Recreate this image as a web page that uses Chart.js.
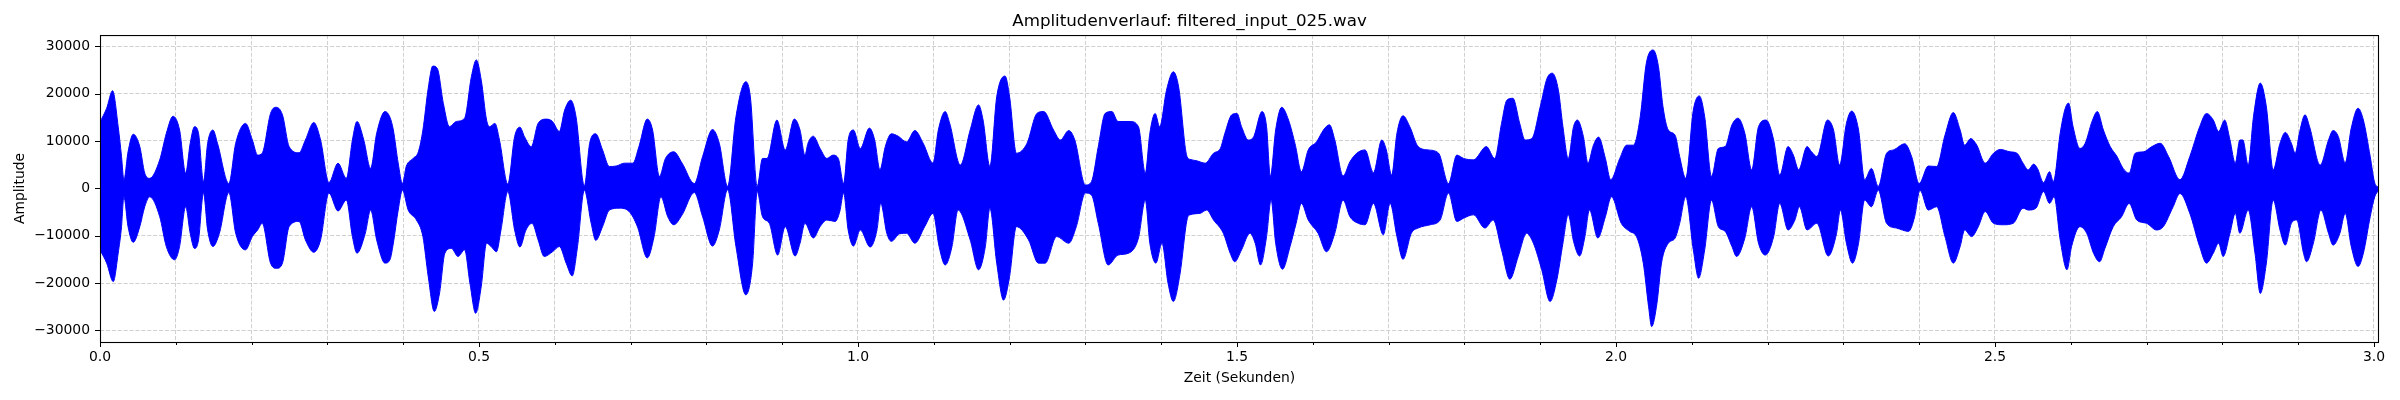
<!DOCTYPE html>
<html>
<head>
<meta charset="utf-8">
<script src="https://cdn.jsdelivr.net/npm/chart.js"></script>
<style>
html,body{margin:0;padding:0;background:#fff;}
#c{display:block;}
</style>
</head>
<body>
<canvas id="c" width="2400" height="400"></canvas>
<script>
// Envelope of the waveform (time in seconds, amplitude)
const upperTime = [0.000,0.0088,0.0166,0.024,0.0284,0.0315,0.037,0.0438,0.0525,0.059,0.0656,0.0788,0.0875,0.0963,0.105,0.113,0.119,0.1247,0.130,0.1365,0.142,0.149,0.155,0.170,0.179,0.192,0.201,0.208,0.214,0.225,0.232,0.2407,0.2495,0.2626,0.271,0.282,0.291,0.302,0.314,0.325,0.333,0.339,0.348,0.357,0.365,0.376,0.3825,0.387,0.3934,0.399,0.404,0.413,0.42,0.426,0.433,0.439,0.445,0.453,0.461,0.470,0.481,0.49,0.4965,0.503,0.51,0.514,0.521,0.527,0.538,0.547,0.554,0.56,0.569,0.578,0.589,0.597,0.606,0.613,0.621,0.628,0.639,0.646,0.654,0.663,0.672,0.681,0.692,0.703,0.711,0.722,0.729,0.738,0.746,0.757,0.768,0.784,0.795,0.808,0.817,0.828,0.839,0.852,0.858,0.867,0.874,0.88,0.893,0.904,0.916,0.9235,0.930,0.934,0.941,0.950,0.959,0.967,0.974,0.981,0.987,0.994,1.003,1.015,1.022,1.029,1.036,1.044,1.053,1.064,1.075,1.086,1.099,1.106,1.115,1.121,1.135,1.148,1.159,1.165,1.174,1.183,1.194,1.20,1.209,1.223,1.236,1.245,1.258,1.267,1.278,1.286,1.30,1.308,1.317,1.326,1.335,1.343,1.359,1.37,1.379,1.385,1.392,1.398,1.407,1.416,1.423,1.434,1.438,1.447,1.458,1.469,1.478,1.484,1.493,1.5,1.506,1.515,1.522,1.533,1.539,1.544,1.551,1.559,1.568,1.577,1.585,1.594,1.605,1.614,1.622,1.629,1.640,1.649,1.658,1.669,1.68,1.691,1.697,1.704,1.711,1.719,1.728,1.739,1.752,1.766,1.779,1.79,1.799,1.812,1.829,1.84,1.849,1.856,1.864,1.873,1.88,1.889,1.9,1.909,1.916,1.924,1.93,1.937,1.944,1.949,1.957,1.963,1.970,1.977,1.986,1.993,2.005,2.014,2.023,2.032,2.04,2.049,2.056,2.062,2.069,2.078,2.084,2.092,2.102,2.11,2.117,2.126,2.135,2.144,2.153,2.161,2.17,2.179,2.188,2.198,2.208,2.216,2.227,2.234,2.241,2.252,2.258,2.265,2.279,2.287,2.295,2.304,2.311,2.32,2.328,2.337,2.346,2.357,2.366,2.381,2.39,2.40,2.412,2.423,2.434,2.445,2.454,2.46,2.468,2.476,2.487,2.498,2.507,2.52,2.529,2.537,2.544,2.551,2.556,2.564,2.572,2.577,2.586,2.592,2.597,2.603,2.612,2.619,2.628,2.635,2.643,2.652,2.661,2.669,2.677,2.685,2.696,2.707,2.718,2.729,2.744,2.757,2.77,2.779,2.788,2.795,2.803,2.81,2.817,2.823,2.827,2.834,2.841,2.85,2.858,2.867,2.876,2.883,2.891,2.896,2.902,2.909,2.915,2.929,2.94,2.946,2.953,2.962,2.97,2.979,2.986,2.995,3.001,3.006];
const upperAmp = [14000,16900,20600,13000,6700,1800,7700,11400,8800,3200,2100,6000,11600,15200,12300,3200,9500,13000,11600,1400,9500,12300,9500,1000,9500,13700,10200,7000,7400,15800,17100,15500,8800,7500,10200,13900,10200,1200,5300,2100,10200,14100,10200,4200,11600,16200,15000,12300,5300,1000,4600,6300,7700,12300,21100,25800,25300,17900,13000,14100,14800,23600,27100,22800,14400,13000,13700,10200,900,10900,12900,10900,8800,13700,14600,14100,12000,16500,18600,15100,500,9500,11500,8100,4600,4700,5300,5300,8800,14600,12300,2500,6300,7700,5300,1000,6700,12400,9500,400,15100,22500,19300,400,6300,6300,14400,8100,14600,12300,7000,9500,11000,8400,6300,7000,6300,1000,10200,12300,8400,12700,10200,3900,8800,11500,11000,9800,12200,9500,5300,12300,16200,13700,4900,12300,17600,14400,4600,19300,23700,19300,7400,9500,15800,16200,12300,10200,12200,10200,700,1400,8800,15800,16200,14100,14100,13000,3200,11600,15800,13000,20700,24600,21400,6700,6100,5800,5300,7400,8400,11600,15500,15800,13000,10200,10900,16200,13000,2500,12300,17100,14400,9100,3500,8100,9800,12300,13400,10200,2600,5600,7400,8100,3300,10200,8100,2800,11600,15300,13000,8800,8100,7400,1000,7000,6300,6000,8800,6300,13700,18600,19000,13700,10200,10500,17200,23200,24300,20700,13000,6300,13000,14400,10900,5300,9000,10800,6300,1800,6300,9100,9100,15100,26400,29200,25700,17200,12300,11200,6700,2100,16500,19500,15100,2500,8400,8800,13400,14800,11600,3900,13000,14400,10200,2800,8800,7000,3900,8800,7700,6700,14400,12300,4900,13700,16300,12300,1800,4200,400,7400,8100,9400,6700,1000,4700,4600,11200,16000,12300,9100,10500,9100,5300,7400,8200,7700,7400,5300,3900,5100,4200,1200,3500,1400,11600,16500,18000,13000,8400,9500,14100,16200,12300,8800,6700,4200,3200,7400,7700,8800,9500,6700,1800,6700,13000,15800,14400,12000,14400,10200,5300,10200,10200,4900,15100,22200,17200,3900,9500,11800,9500,7400,12000,15500,13000,4900,10200,12200,10900,5400,12700,16900,14400,6700,1100,200];
const lowerTime = [0.000,0.0088,0.0175,0.024,0.0284,0.0315,0.037,0.0438,0.0525,0.059,0.0656,0.0788,0.0875,0.0984,0.105,0.113,0.119,0.1247,0.130,0.1365,0.142,0.149,0.1575,0.170,0.179,0.192,0.201,0.208,0.214,0.225,0.233,0.2407,0.2495,0.2626,0.271,0.282,0.291,0.302,0.314,0.325,0.333,0.339,0.350,0.357,0.365,0.376,0.3825,0.387,0.3934,0.399,0.4066,0.4175,0.426,0.433,0.441,0.448,0.455,0.4636,0.4724,0.481,0.488,0.4956,0.503,0.51,0.516,0.523,0.529,0.538,0.547,0.554,0.562,0.570,0.578,0.586,0.597,0.606,0.615,0.623,0.630,0.639,0.648,0.654,0.663,0.672,0.685,0.698,0.709,0.722,0.731,0.740,0.749,0.757,0.768,0.784,0.795,0.808,0.817,0.828,0.839,0.852,0.861,0.867,0.874,0.883,0.894,0.904,0.917,0.9235,0.930,0.941,0.950,0.959,0.970,0.976,0.981,0.987,0.994,1.003,1.016,1.025,1.030,1.038,1.044,1.055,1.064,1.075,1.088,1.099,1.107,1.115,1.124,1.132,1.148,1.159,1.168,1.174,1.183,1.192,1.20,1.209,1.225,1.238,1.247,1.262,1.278,1.288,1.30,1.308,1.317,1.330,1.343,1.357,1.37,1.379,1.385,1.393,1.401,1.409,1.416,1.425,1.434,1.438,1.451,1.460,1.469,1.482,1.491,1.497,1.506,1.517,1.524,1.531,1.539,1.545,1.551,1.560,1.570,1.578,1.585,1.594,1.607,1.618,1.629,1.640,1.649,1.660,1.669,1.68,1.693,1.702,1.711,1.719,1.730,1.739,1.755,1.768,1.779,1.79,1.799,1.812,1.827,1.838,1.849,1.860,1.871,1.882,1.891,1.902,1.913,1.922,1.930,1.937,1.944,1.952,1.959,1.965,1.976,1.986,1.994,2.007,2.018,2.027,2.036,2.043,2.047,2.054,2.060,2.069,2.078,2.084,2.092,2.102,2.109,2.117,2.126,2.135,2.144,2.153,2.159,2.17,2.179,2.188,2.197,2.208,2.216,2.227,2.236,2.242,2.252,2.265,2.280,2.291,2.296,2.304,2.312,2.32,2.328,2.337,2.346,2.357,2.370,2.386,2.394,2.401,2.412,2.423,2.434,2.445,2.454,2.46,2.469,2.478,2.487,2.498,2.511,2.524,2.537,2.544,2.554,2.564,2.572,2.578,2.586,2.595,2.601,2.612,2.621,2.630,2.638,2.645,2.656,2.667,2.677,2.687,2.700,2.713,2.722,2.735,2.744,2.757,2.770,2.779,2.788,2.795,2.801,2.810,2.817,2.823,2.834,2.843,2.850,2.858,2.867,2.876,2.883,2.891,2.898,2.907,2.911,2.920,2.930,2.940,2.946,2.955,2.962,2.970,2.979,2.986,2.995,3.001,3.006];
const lowerAmp = [-13000,-15800,-19700,-13700,-8100,-1800,-8100,-11400,-8100,-3900,-1800,-6000,-12300,-15100,-12300,-3900,-9500,-12700,-10900,-1000,-8800,-12300,-9500,-900,-9500,-13000,-10200,-8800,-7400,-15800,-16900,-15800,-8100,-7000,-10900,-13500,-10900,-1000,-4800,-2500,-10200,-13700,-9500,-4600,-10900,-15800,-15100,-11600,-4600,-400,-4600,-6700,-10200,-18600,-26000,-22100,-13700,-12700,-14400,-13000,-20000,-26400,-20700,-11600,-12300,-13400,-8800,-700,-8800,-12400,-8800,-7400,-10900,-14400,-13400,-12300,-15800,-18500,-12300,-400,-7400,-11000,-8100,-4600,-4200,-4900,-8100,-14700,-10200,-1800,-6000,-7700,-5600,-900,-6000,-12200,-8800,-300,-12300,-22500,-15800,-700,-6000,-7400,-14100,-8100,-14300,-11600,-7400,-10500,-8100,-6700,-7000,-4900,-1000,-8800,-12200,-8800,-12400,-8800,-3200,-9500,-11200,-9600,-9500,-11600,-8100,-5300,-12300,-16200,-12300,-4600,-10900,-17200,-12300,-4200,-15800,-23600,-18600,-8100,-10900,-15800,-15800,-10200,-11600,-8100,-1000,-1400,-7400,-16200,-14100,-13700,-10500,-2500,-11600,-15800,-11600,-20000,-23900,-17900,-6700,-5600,-5300,-4600,-6700,-9500,-13700,-15500,-13000,-9500,-11600,-16200,-10200,-2500,-11600,-17100,-12300,-7400,-3200,-6700,-9500,-13400,-9500,-2500,-6000,-7400,-7700,-3200,-9800,-3200,-10200,-15000,-9500,-8400,-7700,-6700,-1000,-7000,-6300,-5600,-8400,-6700,-13000,-19200,-14400,-9500,-11600,-17200,-23900,-19300,-11600,-5600,-11200,-14300,-10200,-4600,-10500,-6000,-1800,-7400,-9100,-10200,-15800,-25000,-29200,-24300,-15800,-11600,-10500,-7400,-1800,-13000,-19000,-13000,-2500,-8100,-9100,-12300,-14400,-10500,-3900,-11600,-14100,-10200,-3200,-8800,-6700,-3900,-8800,-7400,-14300,-9500,-4600,-11600,-15800,-11600,-2500,-3900,-400,-7400,-8400,-9100,-6000,-400,-4600,-3900,-10200,-15800,-12300,-8800,-10200,-8100,-4900,-7400,-7700,-7400,-4200,-4600,-4200,-700,-3200,-1800,-10900,-17200,-12300,-8100,-9500,-13700,-15500,-12700,-8100,-6000,-3200,-6700,-7400,-8800,-8100,-3900,-1100,-5300,-12300,-15800,-13700,-11600,-14400,-9500,-5300,-9500,-4600,-13700,-22200,-15800,-2500,-8800,-12000,-7400,-6700,-13700,-15500,-11600,-4600,-9500,-12000,-9500,-5300,-12300,-16500,-13700,-6000,-1800,-400];

const xTicks = [0.0,0.1,0.2,0.3,0.4,0.5,0.6,0.7,0.8,0.9,1.0,1.1,1.2,1.3,1.4,1.5,1.6,1.7,1.8,1.9,2.0,2.1,2.2,2.3,2.4,2.5,2.6,2.7,2.8,2.9,3.0];
const xLabelTicks = [0.0,0.5,1.0,1.5,2.0,2.5,3.0];
const yTicks = [-30000,-20000,-10000,0,10000,20000,30000];

const titleText = 'Amplitudenverlauf: filtered_input_025.wav';
const xTitle = 'Zeit (Sekunden)';
const yTitle = 'Amplitude';

const FONT = 'DejaVu Sans';
const BLUE = '#0000ff';
const GRID = '#d0d0d0';

function isLabelTick(v) {
  return xLabelTicks.some(t => Math.abs(t - v) < 1e-6);
}

const frame = {
  id: 'frame',
  afterDraw(chart) {
    const ctx = chart.ctx;
    const a = chart.chartArea;
    const xs = chart.scales.x, ys = chart.scales.y;
    ctx.save();
    ctx.strokeStyle = '#000';
    ctx.lineWidth = 1;
    ctx.beginPath();
    xTicks.forEach(v => {
      const px = Math.round(xs.getPixelForValue(v)) + 0.5;
      const len = isLabelTick(v) ? 5 : 3;
      ctx.moveTo(px, a.bottom);
      ctx.lineTo(px, a.bottom + len);
    });
    yTicks.forEach(v => {
      const py = Math.round(ys.getPixelForValue(v)) + 0.5;
      ctx.moveTo(a.left, py);
      ctx.lineTo(a.left - 5, py);
    });
    ctx.stroke();
    ctx.lineWidth = 1.1;
    ctx.strokeRect(a.left + 0.5, a.top + 0.5, a.right - a.left - 1, a.bottom - a.top);
    ctx.restore();
  }
};

new Chart(document.getElementById('c'), {
  type: 'line',
  data: {
    datasets: [
      {
        data: upperTime.map((t, i) => ({x: t, y: upperAmp[i]})),
        borderColor: BLUE, backgroundColor: BLUE, borderWidth: 1,
        fill: '+1', pointRadius: 0, cubicInterpolationMode: 'monotone'
      },
      {
        data: lowerTime.map((t, i) => ({x: t, y: lowerAmp[i]})),
        borderColor: BLUE, backgroundColor: BLUE, borderWidth: 1,
        fill: false, pointRadius: 0, cubicInterpolationMode: 'monotone'
      }
    ]
  },
  options: {
    responsive: false,
    animation: false,
    devicePixelRatio: 1,
    events: [],
    layout: {padding: {left: 0, right: 21, top: 0, bottom: 0}},
    plugins: {
      legend: {display: false},
      tooltip: {enabled: false},
      title: {
        display: true, text: titleText, color: '#000',
        font: {family: FONT, size: 16.7, weight: 'normal', lineHeight: 1.2},
        padding: {top: 11.3, bottom: 3.7}
      }
    },
    scales: {
      x: {
        type: 'linear', min: 0, max: 3.0066,
        afterBuildTicks: s => { s.ticks = xTicks.map(v => ({value: v})); },
        afterFit: s => { s.height = 58; },
        grid: {color: GRID, lineWidth: 1, drawTicks: false},
        border: {display: false, dash: [4.1, 1.8]},
        ticks: {
          autoSkip: false, maxRotation: 0, padding: 7, color: '#000',
          font: {family: FONT, size: 13.9},
          callback: v => isLabelTick(v) ? v.toFixed(1) : ''
        },
        title: {
          display: true, text: xTitle, color: '#000',
          font: {family: FONT, size: 13.9}, padding: {top: 0, bottom: 13.7}
        }
      },
      y: {
        type: 'linear', min: -32450, max: 32350,
        afterBuildTicks: s => { s.ticks = yTicks.map(v => ({value: v})); },
        afterFit: s => { s.width = 100; },
        grid: {color: GRID, lineWidth: 1, drawTicks: false},
        border: {display: false, dash: [4.1, 1.8]},
        ticks: {
          padding: 10, color: '#000',
          font: {family: FONT, size: 13.9},
          callback: v => (v < 0 ? '\u2212' + Math.abs(v) : String(v))
        },
        title: {
          display: true, text: yTitle, color: '#000',
          font: {family: FONT, size: 13.9}, padding: {top: 12.4, bottom: 0}
        }
      }
    }
  },
  plugins: [frame]
});
</script>
</body>
</html>
